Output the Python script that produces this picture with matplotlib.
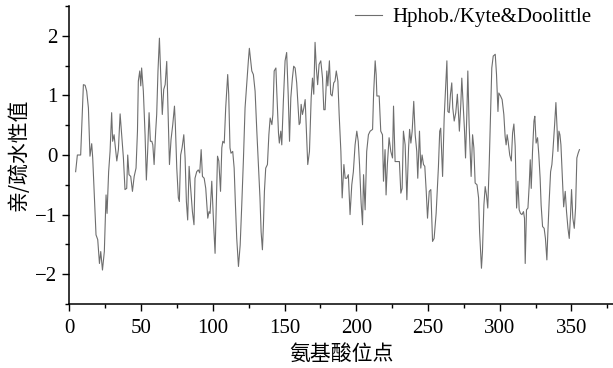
import matplotlib
matplotlib.use("Agg")
import matplotlib.pyplot as plt
from matplotlib.ticker import MultipleLocator

# residue position and hydropathy value
residue = [4.4, 5.6, 7.9, 9.8, 11.0, 12.1, 13.3, 14.4, 15.6, 16.3, 18.6, 19.8, 21.0, 21.9, 23.1, 24.4,
           25.6, 26.3, 27.4, 28.4, 29.5, 30.2, 31.2, 31.9, 33.1, 34.2, 35.4, 36.5, 37.7, 38.8, 40.0,
           40.7, 41.6, 42.8, 44.0, 45.2, 46.5, 47.5, 48.1, 49.1, 49.8, 50.4, 51.6, 52.8, 53.7, 54.6,
           55.6, 56.5, 57.5, 58.2, 59.1, 60.2, 60.9, 61.8, 62.8, 63.7, 64.8, 65.8, 66.8, 67.9, 69.1,
           69.8, 70.9, 72.1, 73.3, 73.9, 74.9, 76.0, 76.7, 77.6, 78.6, 79.8, 80.7, 81.6, 82.5, 83.5,
           84.4, 85.8, 86.9, 87.6, 88.8, 89.9, 90.9, 91.9, 92.8, 94.0, 95.1, 96.5, 97.4, 98.1, 99.3,
           100.6, 101.6, 103.3, 104.2, 105.4, 106.3, 107.0, 108.0, 109.0, 110.4, 111.1, 112.0, 112.7,
           113.9, 114.9, 115.8, 116.7, 117.9, 119.1, 120.2, 121.4, 122.5, 123.7, 124.8, 125.5, 127.2,
           128.3, 129.5, 130.7, 131.8, 132.9, 133.7, 134.6, 135.3, 136.0, 136.9, 138.1, 139.1, 140.0,
           141.2, 141.9, 142.8, 144.0, 144.6, 145.8, 146.4, 147.4, 148.1, 149.2, 150.4, 151.5, 152.6,
           153.5, 154.4, 155.5, 156.4, 157.4, 158.5, 159.2, 160.2, 160.9, 161.6, 162.5, 163.5, 164.4,
           165.3, 166.2, 167.4, 168.6, 169.5, 170.4, 171.3, 172.2, 173.1, 174.1, 175.3, 176.5, 177.4,
           178.3, 179.5, 180.2, 181.3, 182.2, 183.2, 184.3, 185.2, 186.1, 187.2, 188.1, 189.3, 190.2,
           191.4, 192.3, 193.4, 194.5, 195.7, 196.9, 198.0, 199.2, 200.4, 201.4, 202.3, 203.4, 204.4,
           205.1, 206.2, 207.3, 208.5, 209.7, 211.4, 212.1, 213.2, 213.9, 214.4, 216.0, 217.1, 218.3,
           219.0, 220.1, 220.8, 221.7, 222.9, 224.1, 225.3, 226.0, 227.1, 228.2, 230.1, 231.1, 232.0,
           232.9, 234.1, 235.3, 236.5, 237.2, 238.1, 239.0, 240.1, 241.1, 242.2, 242.9, 244.1, 245.0,
           245.9, 246.9, 247.8, 248.8, 249.7, 250.9, 252.0, 253.2, 254.3, 255.7, 257.3, 258.2, 258.9,
           260.2, 261.3, 262.2, 263.2, 263.9, 264.8, 265.7, 266.6, 267.3, 268.3, 269.4, 270.5, 271.2,
           271.9, 272.9, 273.6, 274.6, 275.5, 276.2, 277.1, 277.8, 278.7, 279.4, 280.1, 281.1, 282.0,
           282.9, 284.2, 285.3, 286.0, 286.9, 287.3, 288.0, 289.0, 289.9, 290.8, 291.7, 292.7, 293.6,
           294.5, 295.5, 296.9, 297.8, 298.8, 299.4, 300.6, 301.7, 302.9, 303.8, 304.5, 305.2, 305.9,
           307.0, 308.1, 309.0, 309.9, 310.8, 311.8, 312.7, 313.6, 314.5, 315.5, 316.6, 317.3, 317.8,
           318.7, 319.7, 320.6, 321.3, 322.0, 322.9, 323.9, 324.5, 325.4, 326.4, 327.3, 328.2, 328.9,
           329.9, 331.0, 331.9, 332.9, 333.6, 334.5, 335.5, 336.4, 337.1, 338.3, 339.2, 340.1, 340.6,
           341.3, 342.0, 342.7, 343.7, 344.6, 345.7, 346.6, 347.6, 348.5, 349.4, 350.1, 351.0, 352.0,
           352.9, 353.8, 354.7, 355.6]

hydropathy = [-0.28, 0.00, 0.00, 1.18, 1.17, 1.07, 0.79, -0.02, 0.19, -0.05, -1.34, -1.42, -1.82, -1.62, -1.93, -1.62,
              -0.67, -0.98, -0.28, 0.06, 0.71, 0.23, 0.34, 0.17, -0.10, 0.09, 0.69, 0.34, -0.05, -0.58, -0.56,
              0.00, -0.33, -0.36, -0.61, -0.36, -0.22, 0.40, 1.24, 1.41, 1.16, 1.46, 1.07, 0.34, -0.42, 0.06,
              0.71, 0.23, 0.23, 0.17, -0.16, 0.40, 0.68, 1.41, 1.96, 1.35, 0.68, 1.10, 1.18, 1.57, 0.51,
              -0.16, 0.26, 0.51, 0.82, 0.51, -0.22, -0.72, -0.78, 0.00, 0.12, 0.34, -0.05, -0.78, -1.09, -0.19,
              -0.50, -0.95, -1.17, -0.39, -0.28, -0.25, -0.30, 0.09, -0.36, -0.39, -0.56, -1.06, -0.95, -0.98, -0.44,
              -1.17, -1.65, -0.02, -0.10, -0.61, 0.12, 0.23, 0.20, 0.79, 1.35, 1.02, 0.12, 0.03,
              0.06, -0.22, -0.84, -1.40, -1.87, -1.51, -0.84, -0.05, 0.79, 1.21, 1.58, 1.79, 1.41,
              1.35, 1.07, 0.40, -0.16, -0.72, -1.29, -1.59, -1.17, -0.61, -0.22, -0.16, 0.34, 0.62,
              0.51, 0.68, 1.41, 1.46, 1.07, 0.37, 0.20, 0.40, 0.17, 0.90, 1.58, 1.72, 1.00,
              0.23, 0.96, 1.29, 1.49, 1.46, 1.21, 0.93, 0.51, 0.54, 0.85, 0.68, 0.79, 0.93,
              0.40, -0.16, 0.06, 0.96, 1.29, 1.02, 1.89, 1.46, 1.18, 1.52, 1.58, 1.29, 0.76,
              0.76, 1.41, 1.16, 1.58, 1.02, 0.99, 1.21, 1.24, 1.41, 1.24, 0.68, 0.06, -0.72,
              -0.16, -0.39, -0.39, -0.33, -1.00, -0.50, -0.28, 0.17, 0.40, 0.23, -0.16, -0.80, -1.17,
              -0.33, -0.92, 0.06, 0.34, 0.40, 0.43, 1.02, 1.58, 1.35, 0.99, 0.99, 0.40, 0.34,
              -0.44, 0.09, -0.67, -0.16, 0.29, 0.06, -0.05, 0.82, -0.11, -0.11, -0.11, -0.64, -0.56,
              0.40, 0.17, -0.75, 0.12, 0.43, 0.20, 0.40, 0.90, 0.34, 0.06, -0.39, 0.40, -0.22,
              0.00, -0.16, -0.19, -0.61, -1.06, -0.61, -0.58, -1.45, -1.40, -0.98, -0.20, 0.40, 0.45,
              -0.36, 0.62, 1.07, 1.58, 0.73, 0.71, 1.02, 1.21, 0.79, 0.57, 0.71, 1.02, 0.73,
              0.40, 0.85, 1.29, 0.82, 0.40, -0.05, 0.68, 1.41, 0.51, 0.06, -0.36, 0.34, 0.12,
              -0.47, -0.50, -0.72, -1.29, -1.73, -1.90, -1.62, -0.84, -0.53, -0.67, -0.89, -0.16, 0.68,
              1.46, 1.66, 1.69, 1.35, 0.73, 1.04, 0.99, 0.93, 0.68, 0.31, 0.17, 0.34, 0.23,
              0.00, -0.10, 0.37, 0.52, 0.15, -0.89, -0.44, -0.92, -0.98, -1.00, -0.95, -1.06, -1.82,
              -0.92, -0.89, -0.50, -0.08, -0.56, 0.06, 0.57, 0.65, 0.20, 0.29, 0.00, -0.39, -0.84,
              -1.20, -1.23, -1.40, -1.76, -1.29, -0.78, -0.28, -0.16, 0.06, 0.51, 0.88, 0.40, 0.06,
              0.40, 0.34, 0.17, -0.39, -0.87, -0.61, -0.95, -1.23, -1.40, -1.00, -0.58, -1.06, -1.23,
              -0.89, -0.05, 0.03, 0.09]

x_ticks = [0, 50, 100, 150, 200, 250, 300, 350]
y_ticks = [-2, -1, 0, 1, 2]
series_label = "Hphob./Kyte&Doolittle"
x_label = "氨基酸位点"
y_label = "亲/疏水性值"

serif = ["Liberation Serif", "DejaVu Serif"]
cjk = ["Noto Sans CJK SC", "DejaVu Sans"]

fig = plt.figure(figsize=(6.13, 3.68), dpi=100)
ax = fig.add_axes([0.1131, 0.1739, 0.8869, 0.8098])

ax.plot(residue, hydropathy, color="#6e6e6e", linewidth=0.8, label=series_label)

ax.set_xlim(0, 379)
ax.set_ylim(-2.5, 2.5)
ax.set_xticks(x_ticks)
ax.set_yticks(y_ticks)
ax.xaxis.set_minor_locator(MultipleLocator(25))
ax.yaxis.set_minor_locator(MultipleLocator(0.5))
ax.tick_params(which="major", direction="out", length=5, width=1, labelsize=15)
ax.tick_params(axis="x", which="major", pad=6)
ax.tick_params(which="minor", direction="out", length=3, width=1)
for lab in ax.get_xticklabels() + ax.get_yticklabels():
    lab.set_fontfamily(serif)

ax.spines["top"].set_visible(False)
ax.spines["right"].set_visible(False)
ax.spines["left"].set_linewidth(1.1)
ax.spines["bottom"].set_linewidth(1.1)

ax.set_xlabel(x_label, fontsize=15, family=cjk, labelpad=3)
ax.set_ylabel(y_label, fontsize=15, family=cjk, labelpad=4)

leg = ax.legend(loc="upper right", frameon=False, prop={"family": serif, "size": 15},
                handlelength=1.3, handletextpad=0.5, borderaxespad=0.1,
                bbox_to_anchor=(0.979, 1.03))

fig.savefig("out.png", dpi=100)
